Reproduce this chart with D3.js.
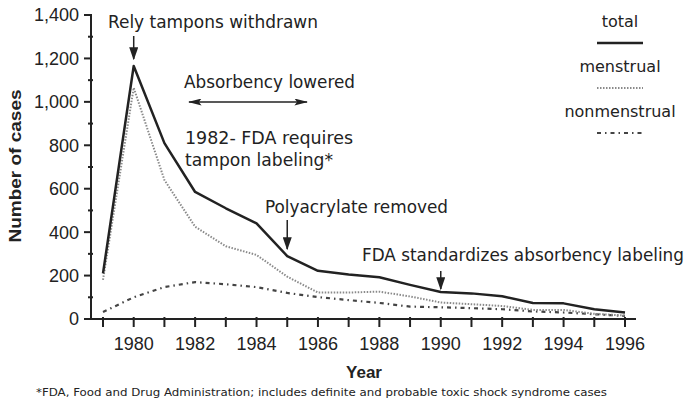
<!DOCTYPE html>
<html lang="en">
<head>
    <meta charset="UTF-8">
    <script src="https://cdn.jsdelivr.net/npm/d3@7"></script>
    <title>Toxic shock syndrome cases</title>
    <style>
        html, body {
            margin: 0px;
            padding: 0px;
            background-color: #fff;
        }
        text { fill: #222; }
        .tick text { font-family: "Liberation Sans", Arial, sans-serif; font-size: 18px; }
        .note { font-family: "DejaVu Sans Condensed", "DejaVu Sans", sans-serif; font-size: 18px; }
        .legend { font-family: "DejaVu Sans", sans-serif; font-size: 16px; }
    </style>
</head>
<body>
    <div id="chart"></div>
    <script>

        // data
        let years = [1979, 1980, 1981, 1982, 1983, 1984, 1985, 1986, 1987, 1988, 1989, 1990, 1991, 1992, 1993, 1994, 1995, 1996];
        let total = [210, 1165, 810, 585, 510, 440, 290, 222, 205, 192, 157, 124, 118, 105, 74, 72, 45, 30];
        let menstrual = [180, 1065, 640, 425, 335, 295, 195, 122, 122, 126, 104, 76, 68, 60, 42, 42, 24, 16];
        let nonmenstrual = [32, 100, 147, 170, 160, 147, 120, 101, 87, 74, 57, 54, 50, 45, 35, 30, 22, 14];
        let yTicks = [0, 200, 400, 600, 800, 1000, 1200, 1400];
        let xLabels = [1980, 1982, 1984, 1986, 1988, 1990, 1992, 1994, 1996];

        let width = 685, height = 401;
        let svg = d3.select('#chart').append('svg').attr('width', width).attr('height', height);

        let x = d3.scaleLinear().domain([1979, 1996]).range([103, 625]);
        let y = d3.scaleLinear().domain([0, 1400]).range([319, 15]);

        // y axis
        let yAxis = svg.append('g').attr('transform', 'translate(91,0)');
        yAxis.append('line').attr('y1', y(1400)).attr('y2', y(0)).attr('stroke', '#222').attr('stroke-width', 2);
        yAxis.selectAll('.minor').data(d3.range(100, 1400, 200)).join('line')
            .attr('x1', -3).attr('x2', 2)
            .attr('y1', d => y(d)).attr('y2', d => y(d))
            .attr('stroke', '#222').attr('stroke-width', 2);
        let yt = yAxis.selectAll('.tick').data(yTicks).join('g').attr('class', 'tick')
            .attr('transform', d => `translate(0,${y(d)})`);
        yt.append('line').attr('x1', -7).attr('x2', 1).attr('stroke', '#222').attr('stroke-width', 2);
        yt.append('text').attr('x', -12).attr('dy', '0.36em').attr('text-anchor', 'end')
            .text(d => d3.format(',')(d));

        // x axis
        let xAxis = svg.append('g').attr('transform', `translate(0,${y(0)})`);
        xAxis.append('line').attr('x1', 85).attr('x2', 636).attr('stroke', '#222').attr('stroke-width', 2);
        xAxis.selectAll('.xt').data(years).join('line')
            .attr('x1', d => x(d)).attr('x2', d => x(d))
            .attr('y1', -2).attr('y2', 8)
            .attr('stroke', '#222').attr('stroke-width', 2);
        xAxis.selectAll('.tick').data(xLabels).join('text').attr('class', 'tick')
            .attr('x', d => x(d)).attr('y', 31).attr('text-anchor', 'middle')
            .style('font-family', '"Liberation Sans", Arial, sans-serif').style('font-size', '18px')
            .text(d => d);

        // axis titles
        svg.append('text').attr('x', 364).attr('y', 378).attr('text-anchor', 'middle')
            .style('font-family', '"Liberation Sans", Arial, sans-serif').style('font-size', '17px').style('font-weight', 'bold')
            .text('Year');
        svg.append('text').attr('transform', 'translate(21,166) rotate(-90)').attr('text-anchor', 'middle')
            .style('font-family', '"Liberation Sans", Arial, sans-serif').style('font-size', '17px').style('font-weight', 'bold')
            .attr('textLength', 153).attr('lengthAdjust', 'spacingAndGlyphs')
            .text('Number of cases');

        // lines
        let line = (vals) => d3.line().x((d, i) => x(years[i])).y(d => y(d))(vals);
        svg.append('path').attr('d', line(nonmenstrual)).attr('fill', 'none')
            .attr('stroke', '#444').attr('stroke-width', 2.2).attr('stroke-dasharray', '4,4,1.5,4');
        svg.append('path').attr('d', line(menstrual)).attr('fill', 'none')
            .attr('stroke', '#8a8a8a').attr('stroke-width', 2).attr('stroke-dasharray', '1.5,1.5');
        svg.append('path').attr('d', line(total)).attr('fill', 'none')
            .attr('stroke', '#222').attr('stroke-width', 2.5).attr('stroke-linejoin', 'round');

        // arrows
        let defs = svg.append('defs');
        defs.append('marker').attr('id', 'head').attr('viewBox', '0 0 10 10')
            .attr('refX', 9).attr('refY', 5).attr('markerWidth', 13).attr('markerHeight', 9)
            .attr('markerUnits', 'userSpaceOnUse').attr('orient', 'auto-start-reverse')
            .attr('preserveAspectRatio', 'none')
            .append('path').attr('d', 'M0,0L10,5L0,10Z').attr('fill', '#222');
        defs.append('marker').attr('id', 'headh').attr('viewBox', '0 0 10 10')
            .attr('refX', 9).attr('refY', 5).attr('markerWidth', 14).attr('markerHeight', 7)
            .attr('markerUnits', 'userSpaceOnUse').attr('orient', 'auto-start-reverse')
            .attr('preserveAspectRatio', 'none')
            .append('path').attr('d', 'M0,0L10,5L0,10L2,5Z').attr('fill', '#222');

        function arrowDown(year, y1, y2) {
            svg.append('line').attr('x1', x(year)).attr('x2', x(year)).attr('y1', y1).attr('y2', y2)
                .attr('stroke', '#222').attr('stroke-width', 1.5).attr('marker-end', 'url(#head)');
        }
        arrowDown(1980, 36, 59);
        arrowDown(1985, 220, 249);
        arrowDown(1990, 271, 289);
        svg.append('line').attr('x1', 189).attr('x2', 307).attr('y1', 102).attr('y2', 102)
            .attr('stroke', '#222').attr('stroke-width', 1.3)
            .attr('marker-start', 'url(#headh)').attr('marker-end', 'url(#headh)');

        // annotations
        let notes = [
            ['Rely tampons withdrawn', 108, 28, 210],
            ['Absorbency lowered', 184, 88, 171],
            ['1982- FDA requires', 185, 144, 168],
            ['tampon labeling*', 185, 166, 148],
            ['Polyacrylate removed', 265, 213, 183],
            ['FDA standardizes absorbency labeling', 362, 261, 322]
        ];
        svg.selectAll('.note').data(notes).join('text').attr('class', 'note')
            .attr('x', d => d[1]).attr('y', d => d[2])
            .attr('textLength', d => d[3]).attr('lengthAdjust', 'spacingAndGlyphs')
            .text(d => d[0]);

        // legend
        let legend = [
            ['total', 27, 43, '#222', null, 2.5],
            ['menstrual', 72, 88, '#8a8a8a', '1.5,1.5', 2],
            ['nonmenstrual', 117, 133, '#444', '4,4,1.5,4', 2.2]
        ];
        let lg = svg.selectAll('.lg').data(legend).join('g');
        lg.append('text').attr('class', 'legend').attr('x', 620).attr('y', d => d[1])
            .attr('text-anchor', 'middle').text(d => d[0]);
        lg.append('line').attr('x1', 597).attr('x2', 643).attr('y1', d => d[2]).attr('y2', d => d[2])
            .attr('stroke', d => d[3]).attr('stroke-width', d => d[5])
            .attr('stroke-dasharray', d => d[4]);

        // footnote
        svg.append('text').attr('x', 36).attr('y', 396)
            .style('font-family', '"DejaVu Sans Condensed", sans-serif').style('font-size', '11px')
            .attr('textLength', 571).attr('lengthAdjust', 'spacingAndGlyphs')
            .text('*FDA, Food and Drug Administration; includes definite and probable toxic shock syndrome cases');

    </script>
</body>
</html>
